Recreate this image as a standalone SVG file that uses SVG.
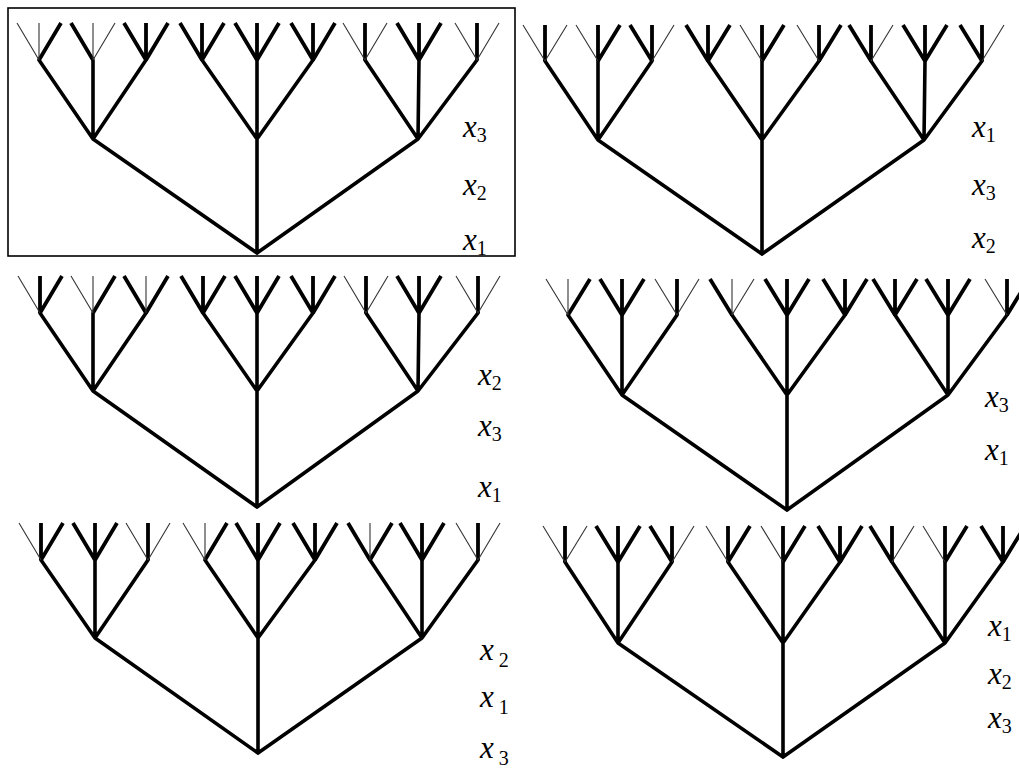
<svg xmlns="http://www.w3.org/2000/svg" width="1019" height="771" viewBox="0 0 1019 771">
<style>
.br{fill:none;stroke:#000;stroke-width:3.6;stroke-linecap:round;stroke-linejoin:round}
.tk{fill:none;stroke:#000;stroke-width:3.8;stroke-linecap:butt}
.tn{fill:none;stroke:#333;stroke-width:1.1}
.lb{font-family:'Liberation Serif','Times New Roman',serif;font-style:italic;font-size:31px;fill:#000}
.sb{font-style:normal;font-size:20px}
</style>
<rect x="8" y="8" width="507" height="248" fill="none" stroke="#000" stroke-width="1.6"/>
<g id="tree1">
<g class="edges">
<path class="br" d="M257 253L93 139M257 253V139M257 253L418 139M93 139L39 60M93 139V60M93 139L146 60M257 139L202 60M257 139V60M257 139L313 60M418 139L365 60M418 139L419 60M418 139L477 60"/>
<path class="tk" d="M39 60L61 23M93 60L71 23M146 60L124 23M146 60V23M146 60L168 23M202 60L180 23M202 60V23M202 60L224 23M257 60L235 23M257 60V23M257 60L279 23M313 60L291 23M313 60V23M313 60L335 23M365 60V23M419 60L397 23M419 60V23M419 60L441 23M477 60V23"/>
<path class="tn" d="M39 60L17 23M39 60V23M93 60V23M93 60L115 23M365 60L343 23M365 60L387 23M477 60L455 23M477 60L499 23"/>
</g>
<text class="lb" x="463" y="137">x<tspan class="sb" dy="5">3</tspan></text>
<text class="lb" x="463" y="195">x<tspan class="sb" dy="5">2</tspan></text>
<text class="lb" x="463" y="250">x<tspan class="sb" dy="5">1</tspan></text>
</g>
<g id="tree2">
<g class="edges">
<path class="br" d="M762 254L598 140M762 254V140M762 254L924 140M598 140L545 61M598 140V61M598 140L652 61M762 140L708 61M762 140V61M762 140L819 61M924 140L871 61M924 140L925 61M924 140L982 61"/>
<path class="tk" d="M545 61V25M598 61V25M598 61L620 25M652 61L630 25M652 61V25M708 61L686 25M708 61V25M708 61L730 25M762 61V25M762 61L784 25M819 61V25M819 61L841 25M871 61L849 25M871 61V25M925 61L903 25M925 61V25M925 61L947 25M982 61L960 25M982 61V25"/>
<path class="tn" d="M545 61L523 25M545 61L567 25M598 61L576 25M652 61L674 25M762 61L740 25M819 61L797 25M871 61L893 25M982 61L1004 25"/>
</g>
<text class="lb" x="972" y="137">x<tspan class="sb" dy="5">1</tspan></text>
<text class="lb" x="972" y="195">x<tspan class="sb" dy="5">3</tspan></text>
<text class="lb" x="972" y="248">x<tspan class="sb" dy="5">2</tspan></text>
</g>
<g id="tree3">
<g class="edges">
<path class="br" d="M257 507L93 391M257 507V391M257 507L418 391M93 391L40 313M93 391V313M93 391L146 313M257 391L203 313M257 391V313M257 391L313 313M418 391L366 313M418 391L419 313M418 391L478 313"/>
<path class="tk" d="M40 313V276M40 313L62 276M93 313L115 276M146 313L124 276M146 313L168 276M203 313L181 276M203 313V276M203 313L225 276M257 313L235 276M257 313V276M257 313L279 276M313 313L291 276M313 313V276M313 313L335 276M366 313V276M419 313L397 276M419 313V276M419 313L441 276M478 313V276"/>
<path class="tn" d="M40 313L18 276M93 313L71 276M93 313V276M146 313V276M366 313L344 276M366 313L388 276M478 313L456 276M478 313L500 276"/>
</g>
<text class="lb" x="478" y="385">x<tspan class="sb" dy="5">2</tspan></text>
<text class="lb" x="478" y="436">x<tspan class="sb" dy="5">3</tspan></text>
<text class="lb" x="478" y="497">x<tspan class="sb" dy="5">1</tspan></text>
</g>
<g id="tree4">
<g class="edges">
<path class="br" d="M787 510L622 395M787 510V395M787 510L948 395M622 395L568 315M622 395V315M622 395L677 315M787 395L732 315M787 395V315M787 395L845 315M948 395L895 315M948 395V315M948 395L1007 315"/>
<path class="tk" d="M568 315L590 279M622 315L600 279M622 315V279M622 315L644 279M677 315V279M732 315L710 279M787 315L765 279M787 315V279M787 315L809 279M845 315L823 279M845 315V279M845 315L867 279M895 315L873 279M895 315V279M895 315L917 279M948 315L926 279M948 315V279M948 315L970 279M1007 315V279M1007 315L1029 279"/>
<path class="tn" d="M568 315L546 279M568 315V279M677 315L655 279M677 315L699 279M732 315V279M732 315L754 279M1007 315L985 279"/>
</g>
<text class="lb" x="985" y="407">x<tspan class="sb" dy="5">3</tspan></text>
<text class="lb" x="985" y="460">x<tspan class="sb" dy="5">1</tspan></text>
</g>
<g id="tree5">
<g class="edges">
<path class="br" d="M258 753L95 638M258 753V638M258 753L422 638M95 638L41 560M95 638V560M95 638L148 560M258 638L205 560M258 638V560M258 638L315 560M422 638L370 560M422 638V560M422 638L478 560"/>
<path class="tk" d="M41 560V523M41 560L63 523M95 560L73 523M95 560V523M95 560L117 523M148 560V523M205 560L227 523M258 560L236 523M258 560V523M258 560L280 523M315 560L293 523M315 560V523M315 560L337 523M370 560L348 523M370 560L392 523M422 560L400 523M422 560V523M422 560L444 523M478 560V523"/>
<path class="tn" d="M41 560L19 523M148 560L126 523M148 560L170 523M205 560L183 523M205 560V523M370 560V523M478 560L456 523M478 560L500 523"/>
</g>
<text class="lb" x="480" y="660">x<tspan class="sb" dx="5" dy="7">2</tspan></text>
<text class="lb" x="480" y="707">x<tspan class="sb" dx="5" dy="7">1</tspan></text>
<text class="lb" x="480" y="758">x<tspan class="sb" dx="5" dy="7">3</tspan></text>
</g>
<g id="tree6">
<g class="edges">
<path class="br" d="M783 757L618 643M783 757V643M783 757L945 643M618 643L565 562M618 643V562M618 643L672 562M783 643L728 562M783 643V562M783 643L840 562M945 643L892 562M945 643V562M945 643L1003 562"/>
<path class="tk" d="M565 562V526M618 562L596 526M618 562V526M618 562L640 526M672 562L650 526M672 562V526M728 562V526M728 562L750 526M783 562V526M783 562L805 526M840 562L818 526M840 562V526M840 562L862 526M892 562L870 526M892 562V526M945 562V526M945 562L967 526M1003 562L981 526M1003 562V526M1003 562L1025 526"/>
<path class="tn" d="M565 562L543 526M565 562L587 526M672 562L694 526M728 562L706 526M783 562L761 526M892 562L914 526M945 562L923 526"/>
</g>
<text class="lb" x="988" y="636">x<tspan class="sb" dy="5">1</tspan></text>
<text class="lb" x="988" y="684">x<tspan class="sb" dy="5">2</tspan></text>
<text class="lb" x="988" y="728">x<tspan class="sb" dy="5">3</tspan></text>
</g>
</svg>
